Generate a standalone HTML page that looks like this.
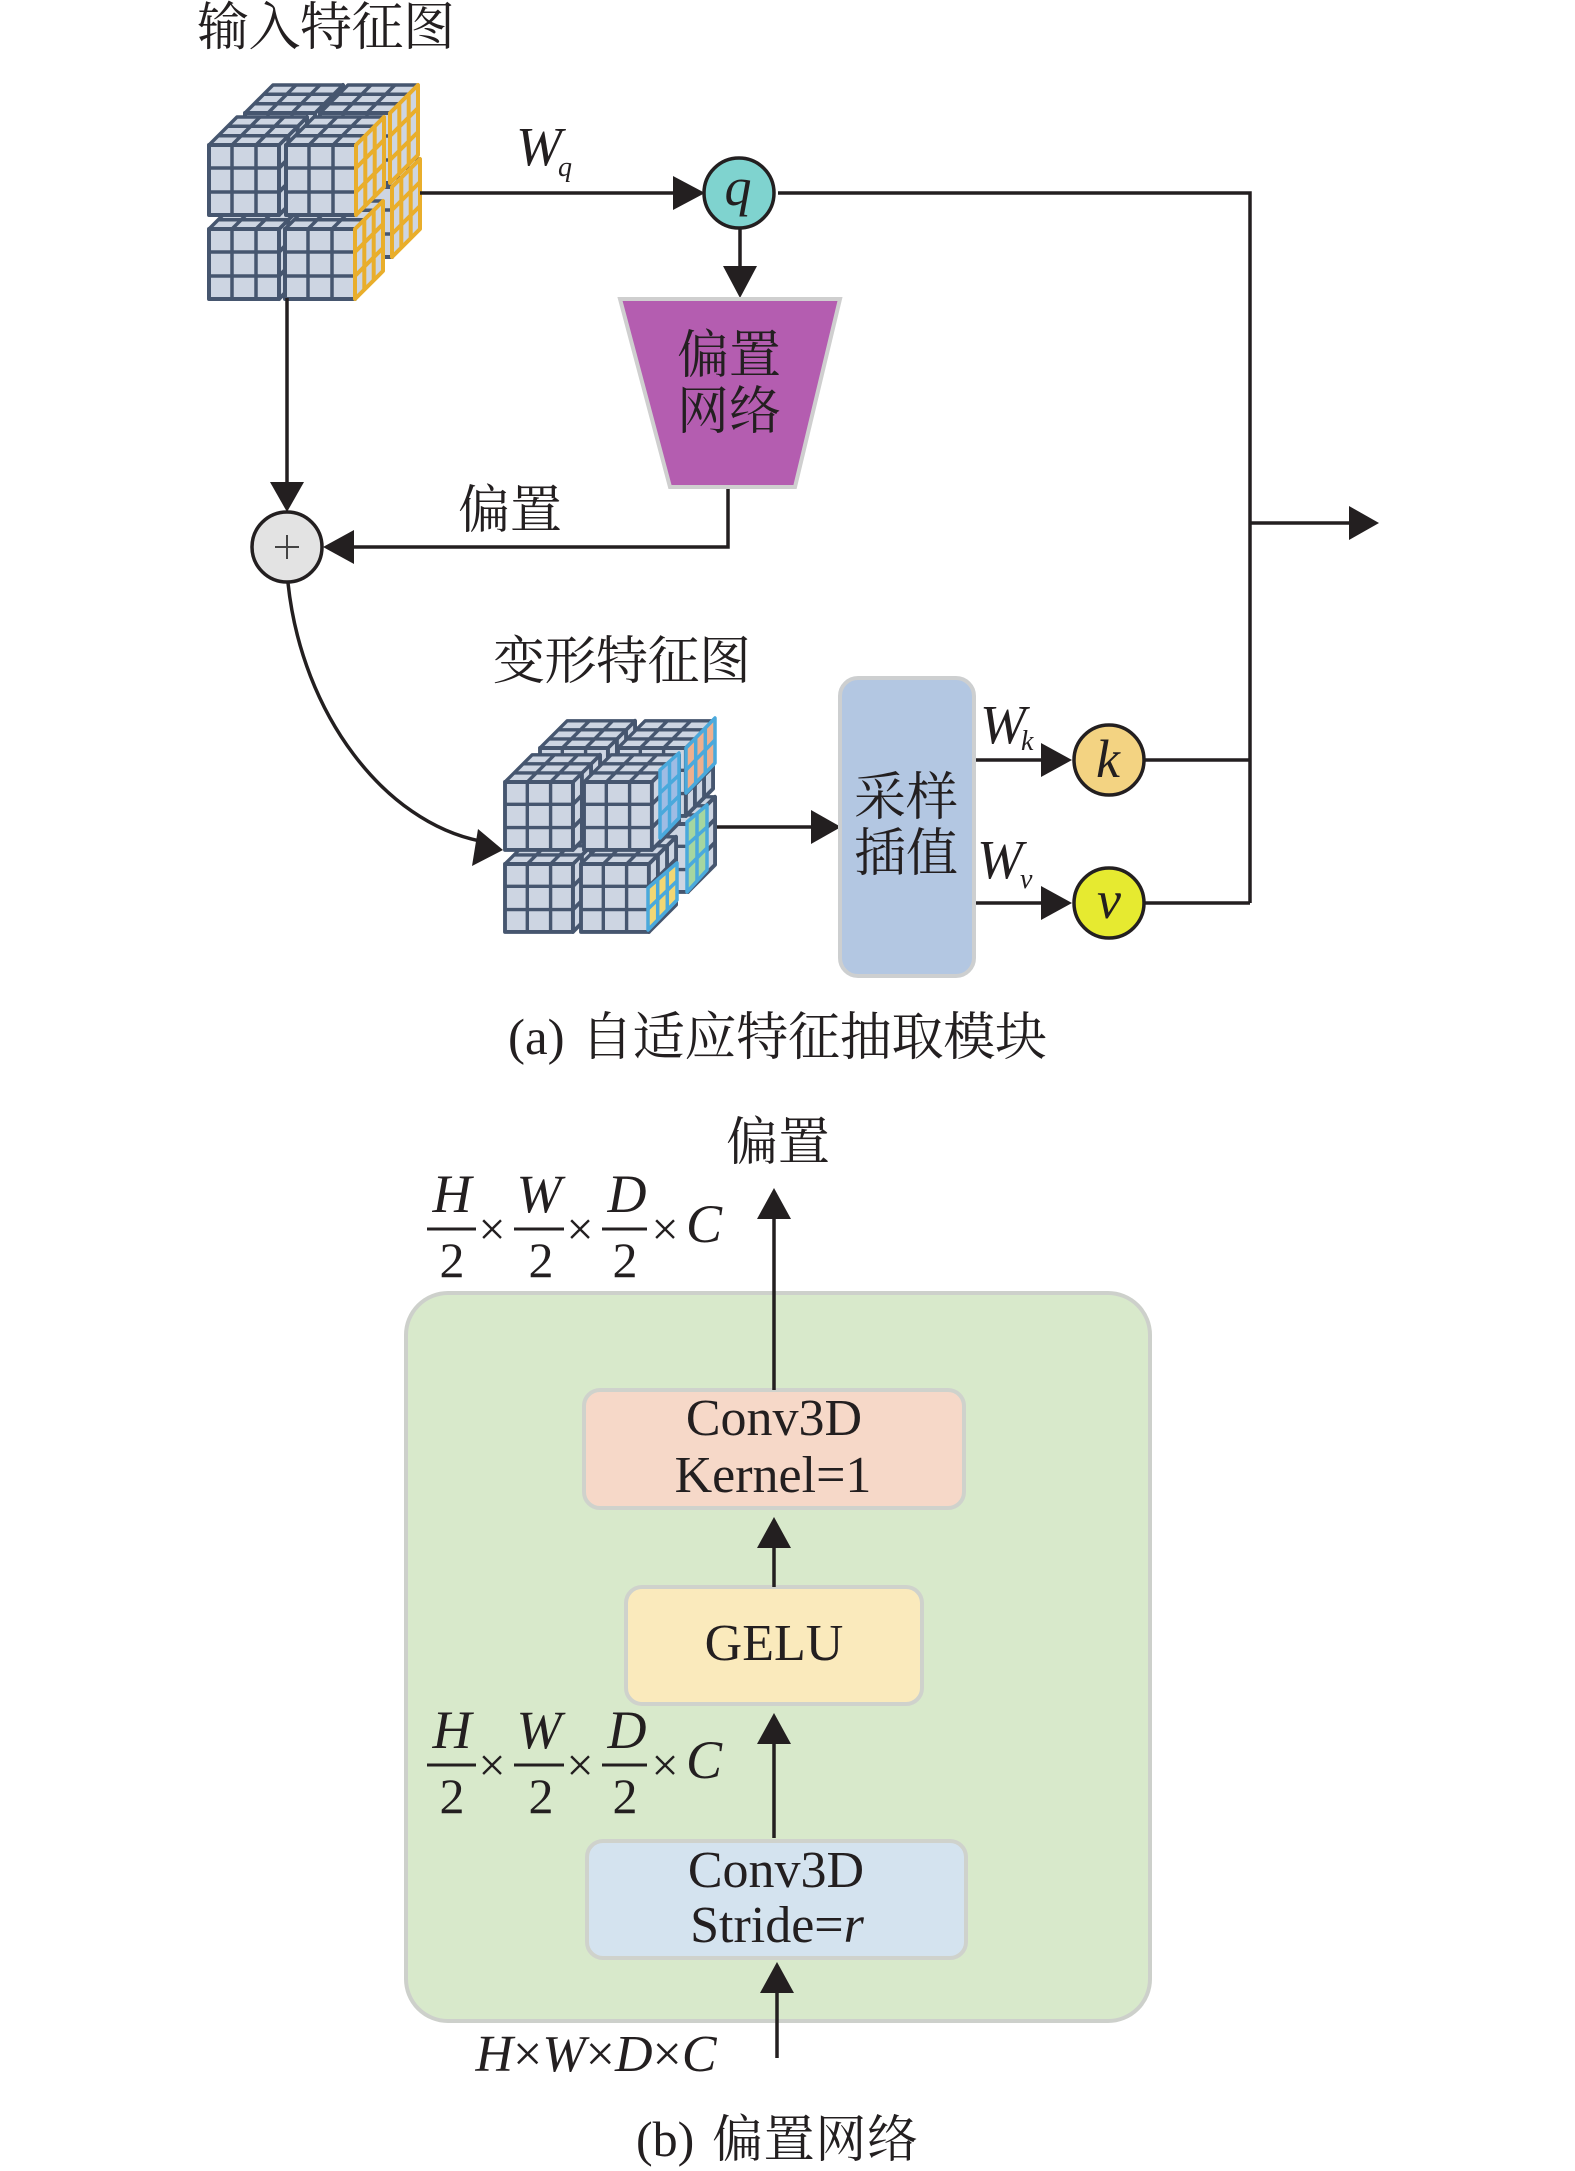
<!DOCTYPE html>
<html><head><meta charset="utf-8"><style>
html,body{margin:0;padding:0;background:#fff}
svg{display:block}
text{font-family:"Liberation Serif","Noto Serif CJK SC",serif;fill:#231f20}
.c{font-size:52px;text-anchor:middle}
.i{font-style:italic}
.m{text-anchor:middle}
.l{fill:none;stroke:#231f20;stroke-width:3.5}
.a{fill:#231f20}
</style></head><body>
<svg width="1575" height="2171" viewBox="0 0 1575 2171" xmlns="http://www.w3.org/2000/svg">
<defs>
<g id="fr" stroke-width="3.5" stroke-linejoin="round">
<path d="M0 0L28-28H98L70 0Z" fill="#cdd5e2" stroke="#46566f"/>
<path d="M9.3-9.3H79.3M18.7-18.7H88.7M23 0L51-28M47 0L75-28" fill="none" stroke="#46566f"/>
<rect width="70" height="70" fill="#cdd5e2" stroke="#46566f" stroke-width="4"/>
<path d="M23 0V70M47 0V70M0 23H70M0 47H70" fill="none" stroke="#46566f" stroke-width="3.5"/>
</g>
<g id="sd" stroke-width="4" stroke-linejoin="round">
<path d="M70 0L98-28V42L70 70Z"/>
<path d="M70 23L98-5M70 47L98 19M79.3-9.3V60.7M88.7-18.7V51.3" fill="none"/>
</g>
</defs>

<!-- input cube -->
<g fill="#cdd5e2">
<g transform="translate(245,187)"><use href="#sd" stroke="#46566f"/><use href="#fr"/></g>
<g transform="translate(322,187)"><use href="#fr"/><use href="#sd" stroke="#e9ae2b"/></g>
<g transform="translate(245,113)"><use href="#sd" stroke="#46566f"/><use href="#fr"/></g>
<g transform="translate(320,113)"><use href="#fr"/><use href="#sd" stroke="#e9ae2b"/></g>
<g transform="translate(209,229)"><use href="#sd" stroke="#46566f"/><use href="#fr"/></g>
<g transform="translate(285,229)"><use href="#fr"/><use href="#sd" stroke="#e9ae2b"/></g>
<g transform="translate(209,145)"><use href="#sd" stroke="#46566f"/><use href="#fr"/></g>
<g transform="translate(286,145)"><use href="#fr"/><use href="#sd" stroke="#e9ae2b"/></g>
</g>

<!-- deformed cube -->
<g fill="#cdd5e2">
<g transform="translate(540,822) scale(.97)"><use href="#sd" stroke="#46566f"/><use href="#fr"/></g>
<g transform="translate(620,824) scale(.97)"><use href="#fr"/><use href="#sd" stroke="#46566f"/></g>
<g transform="translate(540,748) scale(.97)"><use href="#sd" stroke="#46566f"/><use href="#fr"/></g>
<g transform="translate(618,748) scale(.97)"><use href="#fr"/><use href="#sd" stroke="#46566f"/></g>
<g transform="translate(505,864) scale(.97)"><use href="#sd" stroke="#46566f"/><use href="#fr"/></g>
<g transform="translate(581,864) scale(.97)"><use href="#fr"/><use href="#sd" stroke="#46566f"/></g>
<g transform="translate(505,782) scale(.97)"><use href="#sd" stroke="#46566f"/><use href="#fr"/></g>
<g transform="translate(584,782) scale(.97)"><use href="#fr"/><use href="#sd" stroke="#46566f"/></g>
</g>
<g stroke="#4aa9dc" stroke-width="3.5" stroke-linejoin="round">
<path d="M660 770L679 753V818L660 838Z" fill="#9fbce4"/><path d="M669.5 762V828M660 793L679 775M660 815L679 796" fill="none"/>
<path d="M686 748L715 718V763L686 793Z" fill="#eeb08f"/><path d="M695.7 738V783M705.3 728V773M686 770L715 740" fill="none"/>
<path d="M687 822L707 805V870L687 892Z" fill="#a5d6a0"/><path d="M697 813V881M687 845L707 827M687 868L707 848" fill="none"/>
<path d="M648 888L677 863V900L648 930Z" fill="#f2d774"/><path d="M657.7 880V920M667.3 871V910M648 909L677 881" fill="none"/>
</g>

<!-- connectors part a -->
<path class="l" d="M420 193H680M740 229V270M287 298V485M728 487V547H350M778 193H1250V903M1145 760H1250M1145 903H1250M1250 523H1350M717 827H812M975 760H1045M975 903H1045"/>
<path class="l" d="M288 583C302 715 385 822 480 841"/>
<polygon class="a" points="705,193 673,176 673,210"/>
<polygon class="a" points="740,298 723,266 757,266"/>
<polygon class="a" points="287,512 270,482 304,482"/>
<polygon class="a" points="323,547 354,530 354,564"/>
<polygon class="a" points="1379,523 1349,506 1349,540"/>
<polygon class="a" points="841,827 811,810 811,844"/>
<polygon class="a" points="1072,760 1041,743 1041,777"/>
<polygon class="a" points="1072,903 1041,886 1041,920"/>
<polygon class="a" points="503,850 472,866 478,829"/>

<!-- shapes part a -->
<polygon points="620,299 840,299 795,487 670,487" fill="#b45db0" stroke="#cfcfcf" stroke-width="4"/>
<rect x="840" y="678" width="134" height="298" rx="18" fill="#b3c7e2" stroke="#cdcfd0" stroke-width="4"/>
<circle cx="739" cy="193" r="35" fill="#7fd3cf" stroke="#231f20" stroke-width="3.5"/>
<circle cx="287" cy="547" r="35" fill="#e3e3e3" stroke="#231f20" stroke-width="3.5"/>
<path d="M275 547H299M287 535V559" stroke="#444" stroke-width="2" fill="none"/>
<circle cx="1109" cy="760" r="35" fill="#f3d382" stroke="#231f20" stroke-width="3.5"/>
<circle cx="1109" cy="903" r="35" fill="#e6ea30" stroke="#231f20" stroke-width="3.5"/>
<text x="738" y="205" class="i m" font-size="54">q</text>
<text x="1108" y="777" class="i m" font-size="54">k</text>
<text x="1109" y="918" class="i m" font-size="54">v</text>

<!-- labels part a -->
<text x="326" y="45" class="c" textLength="258">输入特征图</text>
<text x="729" y="373" class="c">偏置</text>
<text x="729" y="429" class="c">网络</text>
<text x="510" y="528" class="c">偏置</text>
<text x="622" y="679" class="c" textLength="258">变形特征图</text>
<text x="906" y="815" class="c">采样</text>
<text x="906" y="871" class="c">插值</text>
<text x="516" y="165" class="i" font-size="55">W</text>
<text x="558" y="176" class="i" font-size="28">q</text>
<text x="980" y="743" class="i" font-size="55">W</text>
<text x="1021" y="750" class="i" font-size="28">k</text>
<text x="977" y="878" class="i" font-size="55">W</text>
<text x="1020" y="888" class="i" font-size="28">v</text>
<text x="508" y="1054" font-size="51">(a)</text>
<text x="581" y="1055" font-size="52" textLength="466">自适应特征抽取模块</text>

<!-- part b -->
<rect x="406" y="1293" width="744" height="728" rx="42" fill="#d8e9cb" stroke="#cdd0cb" stroke-width="4"/>
<rect x="584" y="1390" width="380" height="118" rx="16" fill="#f6d8c8" stroke="#cfd2cc" stroke-width="4"/>
<rect x="626" y="1587" width="296" height="117" rx="16" fill="#faeabc" stroke="#cfd2cc" stroke-width="4"/>
<rect x="587" y="1841" width="379" height="117" rx="16" fill="#d4e3ef" stroke="#cfd2cc" stroke-width="4"/>
<path class="l" d="M774 1390V1215M774 1587V1542M774 1838V1740M777 2058V1988"/>
<polygon class="a" points="774,1188 757,1219 791,1219"/>
<polygon class="a" points="774,1517 757,1548 791,1548"/>
<polygon class="a" points="774,1713 757,1744 791,1744"/>
<polygon class="a" points="777,1962 760,1993 794,1993"/>

<text x="774" y="1435" class="m" font-size="52">Conv3D</text>
<text x="773" y="1492" class="m" font-size="52">Kernel=1</text>
<text x="774" y="1660" class="m" font-size="52">GELU</text>
<text x="776" y="1887" class="m" font-size="52">Conv3D</text>
<text x="777" y="1942" class="m" font-size="52">Stride=<tspan class="i">r</tspan></text>
<text x="778" y="1160" class="c">偏置</text>
<text x="596" y="2071" class="i m" font-size="52">H<tspan font-style="normal">×</tspan>W<tspan font-style="normal">×</tspan>D<tspan font-style="normal">×</tspan>C</text>
<text x="636" y="2156" font-size="50">(b)</text>
<text x="712" y="2157" font-size="51" textLength="206">偏置网络</text>

<g>
<path d="M427 1229H476M514 1229H564M602 1229H647" stroke="#231f20" stroke-width="3" fill="none"/>
<text x="452" y="1212" class="i m" font-size="54">H</text>
<text x="539" y="1212" class="i m" font-size="54">W</text>
<text x="627" y="1212" class="i m" font-size="54">D</text>
<text x="452" y="1277" class="m" font-size="50">2</text>
<text x="541" y="1277" class="m" font-size="50">2</text>
<text x="625" y="1277" class="m" font-size="50">2</text>
<text x="492" y="1245" class="m" font-size="48">×</text>
<text x="580" y="1245" class="m" font-size="48">×</text>
<text x="665" y="1245" class="m" font-size="48">×</text>
<text x="686" y="1242" class="i" font-size="54">C</text>
</g>
<g>
<path d="M427 1765H476M514 1765H564M602 1765H647" stroke="#231f20" stroke-width="3" fill="none"/>
<text x="452" y="1748" class="i m" font-size="54">H</text>
<text x="539" y="1748" class="i m" font-size="54">W</text>
<text x="627" y="1748" class="i m" font-size="54">D</text>
<text x="452" y="1813" class="m" font-size="50">2</text>
<text x="541" y="1813" class="m" font-size="50">2</text>
<text x="625" y="1813" class="m" font-size="50">2</text>
<text x="492" y="1781" class="m" font-size="48">×</text>
<text x="580" y="1781" class="m" font-size="48">×</text>
<text x="665" y="1781" class="m" font-size="48">×</text>
<text x="686" y="1778" class="i" font-size="54">C</text>
</g>
</svg>
</body></html>
